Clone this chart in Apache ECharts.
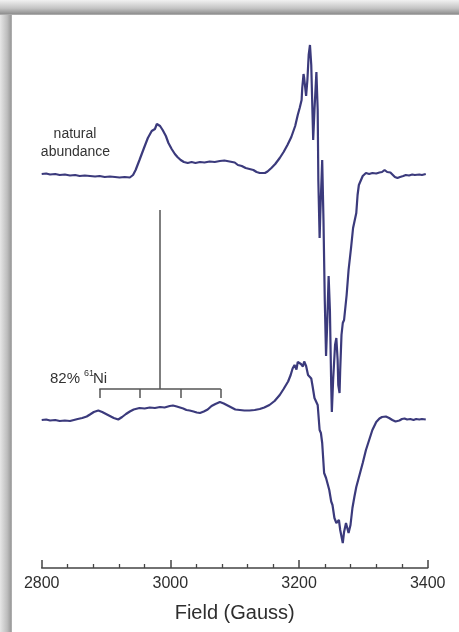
<!DOCTYPE html>
<html>
<head>
<meta charset="utf-8">
<script src="https://cdn.jsdelivr.net/npm/echarts@6/dist/echarts.min.js"></script>
<style>
  html, body { margin: 0; padding: 0; background: #ffffff; }
  #chart { width: 459px; height: 632px; }
</style>
</head>
<body>
<div id="chart"></div>
<script>
// Field axis (Gauss)
const fieldTicks = [2800, 3000, 3200, 3400];

// EPR derivative spectra: [field (G), intensity (arb. units, baseline 0)]
const naturalSpectrum = [
  [2800,1],[2807,1.5],[2813,0.5],[2821,1],[2828,0],[2836,0.5],[2844,-0.5],[2852,0],[2859,-1],[2867,-0.5],
  [2875,-1],[2883,-1.5],[2890,-1],[2898,-2],[2906,-1.5],[2914,-2],[2921,-2.5],[2929,-2],[2937,-2.5],[2942,0],
  [2946,5],[2952,15],[2959,27],[2965,37],[2971,44],[2976,46],[2979,51],[2981,53],[2984,49],[2986,50.5],
  [2988,45],[2993,39],[2997,32],[3002,26],[3007,21],[3011,18],[3016,15],[3021,13],[3027,12],[3033,13],
  [3039,12],[3046,13],[3053,12.5],[3061,13.5],[3069,13],[3077,14],[3084,14.5],[3092,13.5],[3100,12.5],[3105,10],
  [3111,9],[3117,7],[3123,6],[3129,5],[3134,3],[3139,2],[3142,0.5],[3147,2],[3151,3.5],[3157,7],
  [3163,11],[3170,17],[3176,23],[3182,30],[3188,38],[3194,49],[3198,60],[3201,67],[3204,75],[3205,87],
  [3207,101],[3208,97],[3211,79],[3213,95],[3215,120],[3217,130],[3219,110],[3221,60],[3222,35],[3224,65],
  [3227,103],[3229,65],[3230,-5],[3232,-63],[3233,-40],[3236,15],[3238,-45],[3240,-125],[3242,-181],[3244,-145],
  [3246,-101],[3248,-135],[3250,-210],[3251,-237],[3253,-205],[3256,-170],[3258,-163],[3260,-185],[3261,-210],[3263,-218],
  [3264,-195],[3266,-160],[3268,-148],[3270,-145],[3274,-120],[3277,-95],[3281,-72],[3284,-53],[3289,-38],[3291,-20],
  [3293,-10],[3295,-10],[3299,-1],[3304,2],[3309,1],[3314,2],[3320,1.5],[3325,2.5],[3329,3],[3333,5],
  [3337,3],[3342,2.5],[3345,2],[3349,-2],[3353,-3],[3357,-2],[3362,-1],[3366,0],[3371,-0.5],[3376,0.5],
  [3380,0],[3387,0.5],[3391,0],[3397,1]
];

const enrichedSpectrum = [
  [2800,0],[2807,0.5],[2813,-0.5],[2821,0],[2828,-1],[2836,-0.5],[2844,-1],[2850,0],[2856,1],[2863,2],
  [2870,3.5],[2875,5.5],[2881,8],[2888,9.5],[2894,8],[2900,6],[2906,4],[2912,2],[2919,0.5],[2925,3],
  [2931,6],[2937,8.5],[2943,10.5],[2952,12],[2960,11.5],[2968,12.5],[2976,12],[2984,13],[2991,12.5],[2999,14],
  [3004,14.5],[3010,13.5],[3015,12.5],[3020,11.5],[3025,10],[3030,9.5],[3036,8.5],[3041,7.5],[3046,7],[3052,8.5],
  [3058,10.5],[3064,14],[3070,16],[3077,18],[3083,16.5],[3089,14.5],[3095,12.5],[3101,10.5],[3108,10],[3115,9.5],
  [3123,9.5],[3131,10],[3139,11],[3146,12.5],[3154,15],[3162,19],[3170,25],[3176,31],[3183,38.5],[3187,45],
  [3190,51.5],[3193,55],[3196,50.5],[3198,58],[3201,59.5],[3203,56],[3206,53.5],[3208,58.5],[3211,54],[3214,45],
  [3216,43],[3219,41.5],[3221,34],[3224,22],[3227,23.5],[3229,15],[3232,-10],[3234,-13],[3236,-23],[3239,-53],
  [3242,-58],[3245,-56.5],[3247,-70],[3250,-81.5],[3252,-85],[3255,-98],[3258,-103],[3260,-102],[3262,-100],[3264,-110],
  [3268,-123],[3270,-112],[3273,-103],[3275,-108],[3277,-113],[3280,-105],[3283,-88],[3286,-77],[3289,-67],[3294,-55],
  [3299,-43],[3304,-30],[3309,-20],[3314,-10],[3320,-2],[3325,1.5],[3329,3],[3335,3.5],[3340,2],[3345,0],
  [3350,-1.5],[3356,-0.5],[3360,1],[3364,1.5],[3368,0.5],[3373,1],[3378,0],[3382,1],[3387,0.5],[3391,1],
  [3397,0.5]
];

// Vertical offsets used to stack the two traces
const naturalOffset = 393;
const enrichedOffset = 148;

// 61Ni (I = 3/2) hyperfine stick diagram
const hyperfineCentre = 2984;
const hyperfineSplitting = 63;
const stickTop = 358, stickBar = 179, stickFoot = 170;

const traceColor = '#3b3a7c';
const textFont = '"Liberation Sans", Arial, sans-serif';

const stickPositions = [-1.5, -0.5, 0.5, 1.5].map(m => hyperfineCentre + m * hyperfineSplitting);
const stickSegments = [
  { coords: [[hyperfineCentre, stickTop], [hyperfineCentre, stickBar]] },
  { coords: [[stickPositions[0], stickBar], [stickPositions[3], stickBar]] },
  ...stickPositions.map(f => ({ coords: [[f, stickBar], [f, stickFoot]] }))
];

const chart = echarts.init(document.getElementById('chart'), null, { renderer: 'canvas' });

chart.setOption({
  backgroundColor: '#ffffff',
  animation: false,
  grid: { left: 41.7, right: 31.3, top: 18, bottom: 64 },
  xAxis: {
    type: 'value',
    min: fieldTicks[0],
    max: fieldTicks[fieldTicks.length - 1],
    interval: fieldTicks[1] - fieldTicks[0],
    name: 'Field (Gauss)',
    nameLocation: 'middle',
    nameGap: 35,
    nameTextStyle: { fontFamily: textFont, fontSize: 20, color: '#2e2e2e' },
    axisLine: { show: true, lineStyle: { color: '#444', width: 1.5 } },
    axisTick: { show: true, inside: true, length: 8, lineStyle: { color: '#444', width: 1.5 } },
    minorTick: { show: true, splitNumber: 5, length: 4, lineStyle: { color: '#444', width: 1.3 } },
    splitLine: { show: false },
    axisLabel: {
      fontFamily: textFont, fontSize: 16, color: '#2e2e2e', margin: 8,
      formatter: v => String(v)
    }
  },
  yAxis: { type: 'value', min: 0, max: 550, show: false },
  graphic: [
    {
      type: 'rect', z: 100,
      shape: { x: 0, y: 0, width: 459, height: 15 },
      style: {
        fill: new echarts.graphic.LinearGradient(0, 0, 0, 1, [
          { offset: 0, color: '#f1f1f1' },
          { offset: 0.55, color: '#c4c4c4' },
          { offset: 0.9, color: '#939393' },
          { offset: 1, color: '#b8b8b8' }
        ])
      }
    },
    {
      type: 'rect', z: 100,
      shape: { x: 0, y: 15, width: 12, height: 617 },
      style: {
        fill: new echarts.graphic.LinearGradient(0, 0, 1, 0, [
          { offset: 0, color: '#e6e6e6' },
          { offset: 0.6, color: '#bdbdbd' },
          { offset: 0.92, color: '#9a9a9a' },
          { offset: 1, color: '#c0c0c0' }
        ])
      }
    },
    {
      type: 'text', z: 50, x: 75, y: 134,
      style: { text: 'natural', font: '14px ' + textFont, fill: '#333', align: 'center', verticalAlign: 'middle' }
    },
    {
      type: 'text', z: 50, x: 75.5, y: 152,
      style: { text: 'abundance', font: '14px ' + textFont, fill: '#333', align: 'center', verticalAlign: 'middle' }
    },
    {
      type: 'text', z: 50, x: 50, y: 379,
      style: { text: '82%', font: '15px ' + textFont, fill: '#333', align: 'left', verticalAlign: 'middle' }
    },
    {
      type: 'text', z: 50, x: 84, y: 374,
      style: { text: '61', font: '9px ' + textFont, fill: '#333', align: 'left', verticalAlign: 'middle' }
    },
    {
      type: 'text', z: 50, x: 93, y: 379,
      style: { text: 'Ni', font: '15px ' + textFont, fill: '#333', align: 'left', verticalAlign: 'middle' }
    }
  ],
  series: [
    {
      name: 'natural abundance',
      type: 'line',
      showSymbol: false,
      smooth: false,
      data: naturalSpectrum.map(([f, v]) => [f, v + naturalOffset]),
      lineStyle: { color: traceColor, width: 2.2 },
      itemStyle: { color: traceColor }
    },
    {
      name: '82% 61Ni',
      type: 'line',
      showSymbol: false,
      smooth: false,
      data: enrichedSpectrum.map(([f, v]) => [f, v + enrichedOffset]),
      lineStyle: { color: traceColor, width: 2.2 },
      itemStyle: { color: traceColor }
    },
    {
      name: 'hyperfine',
      type: 'lines',
      coordinateSystem: 'cartesian2d',
      data: stickSegments,
      lineStyle: { color: '#555', width: 1.5, opacity: 1 },
      silent: true
    }
  ]
});
</script>
</body>
</html>
